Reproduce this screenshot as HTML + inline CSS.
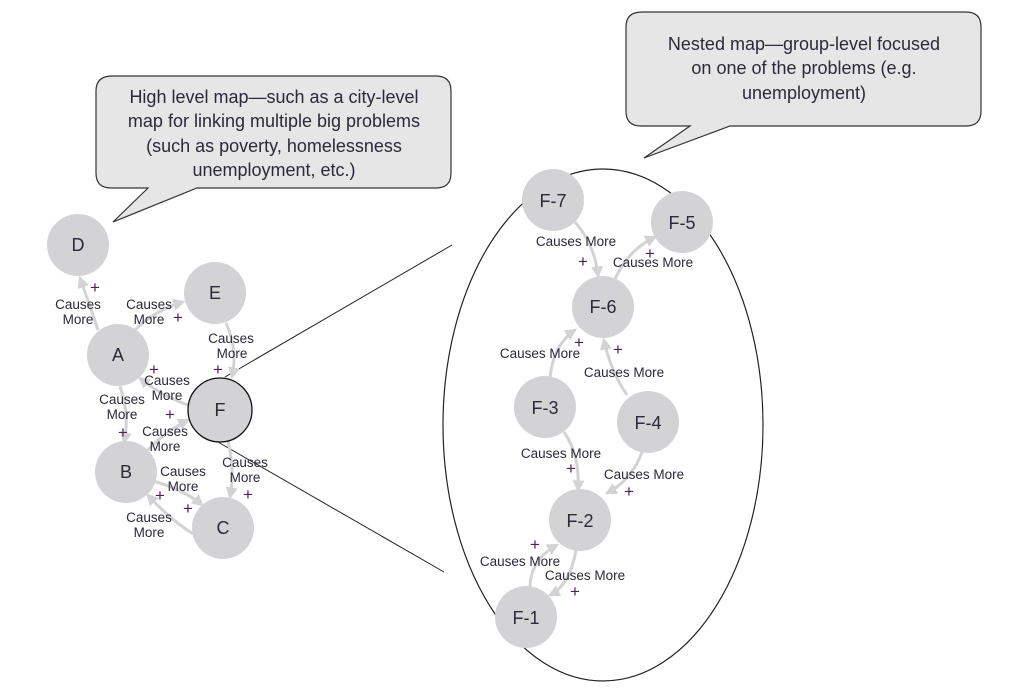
<!DOCTYPE html>
<html><head><meta charset="utf-8"><style>
html,body{margin:0;padding:0;background:#fff;}
svg{display:block}
text{font-family:"Liberation Sans",sans-serif;fill:#2a2a3a}
.n{font-size:18px;text-anchor:middle;dominant-baseline:central}
.l{font-size:13.5px;text-anchor:middle}
.p{font-size:17px;fill:#4a2550;text-anchor:middle}
.c{font-size:18px;text-anchor:middle}
.e{fill:none;stroke:#d3d3d5;stroke-width:3;marker-end:url(#ar)}
</style></head><body>
<svg width="1012" height="693" viewBox="0 0 1012 693" xmlns="http://www.w3.org/2000/svg">
<defs><marker id="ar" viewBox="0 0 10 10" refX="8" refY="5" markerWidth="4" markerHeight="4" orient="auto"><path d="M0,0 L10,5 L0,10 z" fill="#d3d3d5"/></marker></defs>
<path d="M112,76 H436 Q451,76 451,91 V173 Q451,188 436,188 H197 L113,222 L148,188 H111 Q96,188 96,173 V91 Q96,76 112,76 Z" fill="#e6e6e6" stroke="#333" stroke-width="1.2"/>
<text class="c" x="274" y="103">High level map—such as a city-level</text>
<text class="c" x="274" y="127">map for linking multiple big problems</text>
<text class="c" x="274" y="152">(such as poverty, homelessness</text>
<text class="c" x="274" y="176">unemployment, etc.)</text>
<path d="M642,12 H966 Q981,12 981,27 V111 Q981,126 966,126 H730 L644,158 L690,126 H641 Q626,126 626,111 V27 Q626,12 642,12 Z" fill="#e6e6e6" stroke="#333" stroke-width="1.2"/>
<text class="c" x="804" y="50">Nested map—group-level focused</text>
<text class="c" x="804" y="74">on one of the problems (e.g.</text>
<text class="c" x="804" y="99">unemployment)</text>
<line x1="225" y1="377" x2="452" y2="245" stroke="#222" stroke-width="1"/>
<line x1="218" y1="442" x2="444" y2="572" stroke="#222" stroke-width="1"/>
<ellipse cx="603" cy="425" rx="160" ry="256" fill="none" stroke="#222" stroke-width="1.2"/>
<path class="e" d="M98,330 Q88,300 80,278"/>
<path class="e" d="M135,330 Q155,310 183,302"/>
<path class="e" d="M226,323 Q238,350 232,377"/>
<path class="e" d="M188,405 Q160,395 140,378"/>
<path class="e" d="M120,386 Q130,415 124,442"/>
<path class="e" d="M148,450 Q165,432 188,420"/>
<path class="e" d="M228,441 Q235,470 230,497"/>
<path class="e" d="M150,480 Q185,490 202,505"/>
<path class="e" d="M195,535 Q170,520 148,495"/>
<g fill="#d3d3d5">
<circle cx="78" cy="245" r="31"/><circle cx="215" cy="293" r="31"/><circle cx="118" cy="355" r="31"/>
<circle cx="126" cy="472" r="31"/><circle cx="223" cy="528" r="31"/>
</g>
<circle cx="220" cy="410" r="32" fill="#d3d3d5" stroke="#111" stroke-width="1.3"/>
<text class="n" x="78" y="245">D</text><text class="n" x="215" y="293">E</text><text class="n" x="118" y="355">A</text>
<text class="n" x="220" y="410">F</text><text class="n" x="126" y="472">B</text><text class="n" x="223" y="528">C</text>
<text class="p" x="95" y="293">+</text>
<text class="l" x="78" y="309">Causes</text><text class="l" x="78" y="324">More</text>
<text class="l" x="149" y="309">Causes</text><text class="l" x="149" y="324">More</text><text class="p" x="178" y="323">+</text>
<text class="l" x="231" y="343">Causes</text><text class="l" x="232" y="358">More</text><text class="p" x="218" y="375">+</text>
<text class="p" x="154" y="375">+</text>
<text class="l" x="167" y="385">Causes</text><text class="l" x="167" y="400">More</text>
<text class="l" x="122" y="404">Causes</text><text class="l" x="122" y="419">More</text><text class="p" x="123" y="438">+</text>
<text class="p" x="170" y="420">+</text>
<text class="l" x="165" y="436">Causes</text><text class="l" x="165" y="451">More</text>
<text class="l" x="183" y="476">Causes</text><text class="l" x="183" y="491">More</text>
<text class="l" x="245" y="467">Causes</text><text class="l" x="245" y="482">More</text><text class="p" x="248" y="500">+</text>
<text class="p" x="160" y="501">+</text><text class="p" x="188" y="514">+</text>
<text class="l" x="149" y="522">Causes</text><text class="l" x="149" y="537">More</text>
<path class="e" d="M575,222 Q595,245 598,276"/>
<path class="e" d="M615,279 Q628,250 655,237"/>
<path class="e" d="M550,378 Q553,345 575,330"/>
<path class="e" d="M627,395 Q610,370 604,340"/>
<path class="e" d="M564,432 Q580,455 578,490"/>
<path class="e" d="M642,452 Q632,480 607,493"/>
<path class="e" d="M530,588 Q530,560 557,545"/>
<path class="e" d="M576,550 Q570,585 550,595"/>
<g fill="#d3d3d5">
<circle cx="553" cy="200" r="31"/><circle cx="682" cy="222" r="31"/><circle cx="603" cy="307" r="31"/>
<circle cx="545" cy="407" r="31"/><circle cx="648" cy="422" r="31"/><circle cx="580" cy="520" r="31"/><circle cx="526" cy="617" r="31"/>
</g>
<text class="n" x="553" y="201">F-7</text><text class="n" x="682" y="223">F-5</text><text class="n" x="603" y="307">F-6</text>
<text class="n" x="545" y="408">F-3</text><text class="n" x="648" y="423">F-4</text><text class="n" x="580" y="521">F-2</text><text class="n" x="526" y="618">F-1</text>
<text class="l" x="576" y="246">Causes More</text><text class="p" x="583" y="267">+</text>
<text class="p" x="650" y="259">+</text><text class="l" x="653" y="267">Causes More</text>
<text class="p" x="579" y="348">+</text><text class="l" x="540" y="358">Causes More</text>
<text class="p" x="618" y="355">+</text><text class="l" x="624" y="377">Causes More</text>
<text class="l" x="561" y="458">Causes More</text><text class="p" x="571" y="474">+</text>
<text class="l" x="644" y="479">Causes More</text><text class="p" x="629" y="497">+</text>
<text class="p" x="535" y="550">+</text><text class="l" x="520" y="566">Causes More</text>
<text class="l" x="585" y="580">Causes More</text><text class="p" x="575" y="597">+</text>
</svg>
</body></html>
